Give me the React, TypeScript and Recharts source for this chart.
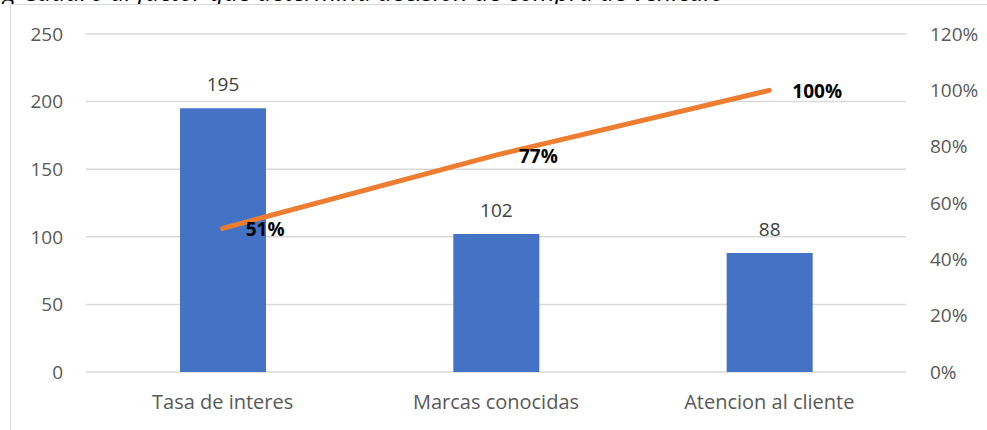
import {
  Bar,
  CartesianGrid,
  ComposedChart,
  LabelList,
  Line,
  XAxis,
  YAxis,
} from "recharts";

const categories = ["Tasa de interes", "Marcas conocidas", "Atencion al cliente"];
const counts = [195, 102, 88];
const cumulativeShare = [0.51, 0.77, 1.0];
const countTicks = [0, 50, 100, 150, 200, 250];
const shareTicks = [0, 0.2, 0.4, 0.6, 0.8, 1.0, 1.2];
const captionText = "g Cuadro al factor que determina decisión de compra de vehículo";

const FONT = "'Open Sans', 'Liberation Sans', sans-serif";
const BAR_COLOR = "#4472C4";
const LINE_COLOR = "#ED7D31";
const GRID_COLOR = "#D9D9D9";
const TICK_COLOR = "#595959";

const rows = categories.map((name, i) => ({
  name,
  count: counts[i],
  share: cumulativeShare[i],
}));

const pct = (v: number) => `${Math.round(v * 100)}%`;

function CountLabel(props: any) {
  const { x, y, width, value } = props;
  return (
    <text
      x={Number(x) + Number(width) / 2}
      y={Number(y) - 17}
      textAnchor="middle"
      fill="#404040"
      fontSize={19}
      fontFamily={FONT}
    >
      {value}
    </text>
  );
}

function ShareLabel(props: any) {
  const { x, y, value } = props;
  return (
    <text
      x={Number(x) + 23}
      y={Number(y) + 8}
      textAnchor="start"
      fill="#000"
      fontSize={19}
      fontWeight="bold"
      fontFamily={FONT}
    >
      {pct(Number(value))}
    </text>
  );
}

export default function App() {
  return (
    <div
      style={{
        position: "absolute",
        left: 0,
        top: 0,
        width: 987,
        height: 430,
        overflow: "hidden",
        background: "#fff",
        fontFamily: FONT,
      }}
    >
      {/* caption above the frame, only its lower edge shows */}
      <div
        style={{
          position: "absolute",
          left: 0,
          top: 0,
          width: 987,
          height: 4,
          overflow: "hidden",
        }}
      >
        <div
          style={{
            position: "absolute",
            left: 3,
            top: -21,
            whiteSpace: "nowrap",
            fontStyle: "italic",
            fontSize: 25,
            lineHeight: "25px",
            color: "#000",
          }}
        >
          {captionText}
        </div>
      </div>
      <div
        style={{
          position: "absolute",
          left: 10,
          top: 4,
          width: 1000,
          height: 500,
          border: `1px solid ${GRID_COLOR}`,
        }}
      />
      <div style={{ position: "absolute", left: 0, top: 0 }}>
        <ComposedChart
          width={987}
          height={430}
          data={rows}
          margin={{ top: 34, right: 0, bottom: 0, left: 0 }}
        >
          <CartesianGrid
            vertical={false}
            stroke={GRID_COLOR}
            strokeWidth={1.5}
            yAxisId="left"
          />
          <XAxis
            dataKey="name"
            axisLine={false}
            tickLine={false}
            height={58}
            tickMargin={17}
            tick={{ fill: TICK_COLOR, fontSize: 20, fontFamily: FONT }}
          />
          <YAxis
            yAxisId="left"
            domain={[0, 250]}
            ticks={countTicks}
            width={86}
            axisLine={false}
            tickLine={false}
            tickMargin={17}
            tick={{ fill: TICK_COLOR, fontSize: 19, fontFamily: FONT }}
          />
          <YAxis
            yAxisId="right"
            orientation="right"
            domain={[0, 1.2]}
            ticks={shareTicks}
            width={81}
            axisLine={false}
            tickLine={false}
            tickMargin={18}
            tickFormatter={pct}
            tick={{ fill: TICK_COLOR, fontSize: 19, fontFamily: FONT }}
          />
          <Bar
            yAxisId="left"
            dataKey="count"
            fill={BAR_COLOR}
            barSize={86}
            isAnimationActive={false}
          >
            <LabelList dataKey="count" content={<CountLabel />} />
          </Bar>
          <Line
            yAxisId="right"
            type="linear"
            dataKey="share"
            stroke={LINE_COLOR}
            strokeWidth={5}
            strokeLinecap="round"
            dot={false}
            isAnimationActive={false}
          >
            <LabelList dataKey="share" content={<ShareLabel />} />
          </Line>
        </ComposedChart>
      </div>
    </div>
  );
}
